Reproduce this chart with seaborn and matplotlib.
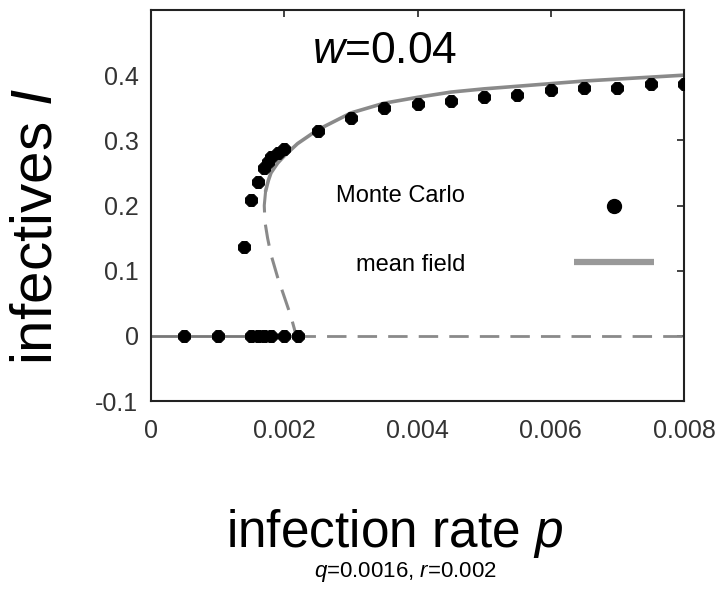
import matplotlib
matplotlib.use("Agg")
import matplotlib.pyplot as plt
import seaborn as sns
import pandas as pd
from matplotlib import font_manager

# ---------------- data ----------------
# Monte Carlo: extinct (I = 0) runs
mc_zero_p = [0.0005, 0.001, 0.0015, 0.0016, 0.0017, 0.0018, 0.002, 0.0022]
mc_zero_I = [0, 0, 0, 0, 0, 0, 0, 0]
# Monte Carlo: endemic runs
mc_up_p = [0.0014, 0.0015, 0.0016, 0.0017, 0.00175, 0.0018, 0.0019, 0.002,
           0.0025, 0.003, 0.0035, 0.004, 0.0045, 0.005, 0.0055, 0.006,
           0.0065, 0.007, 0.0075, 0.008]
mc_up_I = [0.137, 0.208, 0.236, 0.257, 0.266, 0.274, 0.280, 0.286,
           0.315, 0.334, 0.349, 0.355, 0.360, 0.366, 0.369, 0.377,
           0.381, 0.381, 0.387, 0.387]

# mean field: stable upper branch
mf_up_p = [0.00172, 0.00176, 0.0018, 0.0019, 0.002, 0.0022, 0.0025, 0.003,
           0.0035, 0.004, 0.0045, 0.005, 0.0055, 0.006, 0.0065, 0.007,
           0.0075, 0.008]
mf_up_I = [0.222, 0.238, 0.250, 0.265, 0.276, 0.295, 0.316, 0.342,
           0.357, 0.366, 0.374, 0.379, 0.383, 0.387, 0.391, 0.394,
           0.397, 0.400]
# mean field: unstable branch
mf_un_p = [0.00172, 0.0017, 0.00171, 0.00175, 0.0018, 0.0019, 0.002, 0.0021, 0.00218]
mf_un_I = [0.222, 0.200, 0.175, 0.150, 0.125, 0.090, 0.060, 0.030, 0.0]
# mean field: disease-free state (stable / unstable)
mf_zero_stable_p = [0.0, 0.00218]
mf_zero_stable_I = [0.0, 0.0]
mf_zero_unstable_p = [0.00218, 0.008]
mf_zero_unstable_I = [0.0, 0.0]

xticks = [0, 0.002, 0.004, 0.006, 0.008]
xticklabels = ["0", "0.002", "0.004", "0.006", "0.008"]
yticks = [-0.1, 0, 0.1, 0.2, 0.3, 0.4]
yticklabels = ["-0.1", "0", "0.1", "0.2", "0.3", "0.4"]

# ---------------- style ----------------
sns.set_style("white")
avail = {f.name for f in font_manager.fontManager.ttflist}
main_font = "Liberation Sans" if "Liberation Sans" in avail else "DejaVu Sans"
plt.rcParams["font.family"] = [main_font, "DejaVu Sans"]
plt.rcParams["text.color"] = "black"
plt.rcParams["mathtext.fontset"] = "custom"
plt.rcParams["mathtext.it"] = main_font + ":italic"
plt.rcParams["mathtext.rm"] = main_font

fig = plt.figure(figsize=(7.25, 5.9), dpi=100)
ax = fig.add_axes([151 / 725, 1 - 401 / 590, (684 - 151) / 725, (401 - 10) / 590])

line_col = "#8a8a8a"

df_up = pd.DataFrame({"p": mf_up_p, "I": mf_up_I})
df_un = pd.DataFrame({"p": mf_un_p, "I": mf_un_I})
df_zs = pd.DataFrame({"p": mf_zero_stable_p, "I": mf_zero_stable_I})
df_zu = pd.DataFrame({"p": mf_zero_unstable_p, "I": mf_zero_unstable_I})

sns.lineplot(data=df_up, x="p", y="I", sort=False, color=line_col, lw=2.6, ax=ax)
sns.lineplot(data=df_un, x="p", y="I", sort=False, color=line_col, lw=2.2, ax=ax)
sns.lineplot(data=df_zs, x="p", y="I", sort=False, color="#777777", lw=2.0, ax=ax)
sns.lineplot(data=df_zu, x="p", y="I", sort=False, color=line_col, lw=2.0, ax=ax)
# dashed styling for unstable branches
lines = ax.get_lines()
lines[1].set_dashes([7, 4])
lines[3].set_dashes([7, 4])

df_mc = pd.DataFrame({"p": mc_zero_p + mc_up_p, "I": mc_zero_I + mc_up_I})
sns.scatterplot(data=df_mc, x="p", y="I", marker="8", s=85, color="black",
                edgecolor="black", linewidth=0.8, ax=ax, zorder=5)

ax.set_xlim(0, 0.008)
ax.set_ylim(-0.1, 0.5)
ax.set_xticks(xticks)
ax.set_xticklabels(xticklabels)
ax.set_yticks(yticks)
ax.set_yticklabels(yticklabels)
ax.set_xlabel("")
ax.set_ylabel("")
ax.tick_params(direction="in", length=5, width=1.2, top=True, right=True,
               labelsize=18, labelcolor="#333333", colors="#222222")
ax.tick_params(axis="x", pad=13)
ax.tick_params(axis="y", pad=9)
for sp in ax.spines.values():
    sp.set_visible(True)
    sp.set_color("#222222")
    sp.set_linewidth(1.5)

# in-plot title
ax.text(0.0035, 0.437, r"$\it{w}$=0.04", fontsize=32, ha="center", va="center",
        color="black")

# custom legend
ax.text(0.00375, 0.214, "Monte Carlo", fontsize=17, ha="center", va="center",
        color="black")
ax.text(0.0039, 0.108, "mean field", fontsize=17, ha="center", va="center",
        color="black")
ax.plot([0.00695], [0.200], marker="o", ms=10, color="black", ls="none")
ax.plot([0.00635, 0.00755], [0.113, 0.113], color="#999999", lw=4.5,
        solid_capstyle="butt")

# axis labels
fig.text(395 / 725, 1 - 533 / 590, r"infection rate $\it{p}$", fontsize=37,
         ha="center", va="center", color="black")
fig.text(405 / 725, 1 - 572 / 590, r"$\it{q}$=0.0016, $\it{r}$=0.002", fontsize=16,
         ha="center", va="center", color="black")
fig.text(37 / 725, 1 - 226 / 590, r"infectives $\it{I}$", fontsize=42,
         ha="center", va="center", rotation=90, color="black")

fig.savefig("out.png", dpi=100)
